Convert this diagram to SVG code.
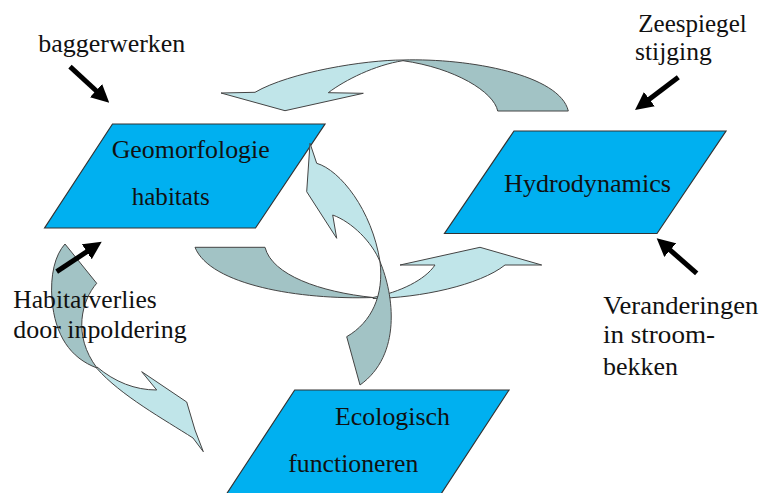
<svg xmlns="http://www.w3.org/2000/svg" width="760" height="493" viewBox="0 0 760 493">
<style>
.node{fill:#00b0f0;stroke:#333;stroke-width:1.2}
.lt{fill:#c0e5e9;stroke:#444;stroke-width:1}
.dk{fill:#a2c3c5;stroke:#444;stroke-width:1}
.t{font-family:"Liberation Serif","Times New Roman",serif;font-size:26px;fill:#111}
.ext{stroke:#000;stroke-width:5;fill:none}
</style>
<defs>
<marker id="ah" viewBox="0 0 18 18" refX="8" refY="9" markerWidth="18" markerHeight="18" markerUnits="userSpaceOnUse" orient="auto">
<path d="M0,0 L18,9 L0,18 Z" fill="#000"/>
</marker>
</defs>
<rect width="760" height="493" fill="#fff"/>
<g id="node-geomorfologie">
<polygon class="node" points="112.5,124 325,124 255.5,228 44.6,228"/>
<text class="t" x="111.7" y="158" textLength="158" lengthAdjust="spacingAndGlyphs">Geomorfologie</text>
<text class="t" x="131.7" y="205" textLength="78" lengthAdjust="spacingAndGlyphs">habitats</text>
</g>
<g id="node-hydrodynamics">
<polygon class="node" points="514,131 726,131 657,233.5 444.5,233.5"/>
<text class="t" x="504" y="191.7" textLength="167" lengthAdjust="spacingAndGlyphs">Hydrodynamics</text>
</g>
<g id="node-ecologisch">
<polygon class="node" points="294.7,390 509,390 441,494 226.5,494"/>
<text class="t" x="335" y="425" textLength="115" lengthAdjust="spacingAndGlyphs">Ecologisch</text>
<text class="t" x="288.3" y="471.7" textLength="130" lengthAdjust="spacingAndGlyphs">functioneren</text>
</g>
<g id="connectors">
<g id="arrow-top">
<path class="dk" d="M403,60 C470,58 560,75 568.3,111 L497.7,111 C494,92 455,68 403,60.7 Z"/>
<path class="lt" d="M403,60 C365,60 290,72 255,92.3 L221,93 L285,110.7 L363.3,93.3 L328.3,92.7 C345,80 375,65 403,60.7 Z"/>
</g>
<g id="arrow-middle">
<path class="dk" d="M195,247.3 L265,247.3 C272,275 320,292 373,297.5 C300,300 210,285 195,247.3 Z"/>
<path class="lt" d="M373,297.5 C400,292 425,280 435,265 L400,265 L480,247.3 L541.7,265 L505,265 C480,285 420,298 373,298.5 Z"/>
</g>
<g id="arrow-vertical">
<path class="dk" d="M380,261.7 C394,295 402,355 360,385 L346.7,336.7 C372,322 384,295 380,261.7 Z"/>
<path class="lt" d="M310,143.3 L316.7,163.3 C340,170 372,210 380,261.7 C372,242 352,222 332.7,215 L336.7,238.3 L306.7,191.7 Z"/>
</g>
<g id="arrow-left">
<path class="dk" d="M65,244 L96.7,283.3 C82,300 72,335 97,368 C70,358 55,335 52,300 C50,275 55,255 65,244 Z"/>
<path class="lt" d="M97,367 C115,382 135,390 156.7,390 L141.7,371.7 L186.7,402 L195,430 L203.3,451.7 L193,438 C165,420 120,395 97,368.5 Z"/>
</g>
<g id="external-arrows">
<line class="ext" x1="70" y1="66.7" x2="101.9" y2="96" marker-end="url(#ah)"/>
<line class="ext" x1="678.3" y1="77.3" x2="643" y2="104" marker-end="url(#ah)"/>
<line class="ext" x1="696.7" y1="273.3" x2="664.2" y2="244.9" marker-end="url(#ah)"/>
<line class="ext" x1="56.7" y1="271.7" x2="93.4" y2="247.3" marker-end="url(#ah)"/>
</g>
</g>
<g id="label-baggerwerken">
<text class="t" x="38.3" y="51.7" textLength="147" lengthAdjust="spacingAndGlyphs">baggerwerken</text>
</g>
<g id="label-zeespiegel">
<text class="t" x="638.3" y="31.7" textLength="108.4" lengthAdjust="spacingAndGlyphs">Zeespiegel</text>
<text class="t" x="635" y="60" textLength="76.7" lengthAdjust="spacingAndGlyphs">stijging</text>
</g>
<g id="label-veranderingen">
<text class="t" x="603.3" y="314.3" textLength="155" lengthAdjust="spacingAndGlyphs">Veranderingen</text>
<text class="t" x="603" y="343.3" textLength="112" lengthAdjust="spacingAndGlyphs">in stroom-</text>
<text class="t" x="603" y="375" textLength="75" lengthAdjust="spacingAndGlyphs">bekken</text>
</g>
<g id="label-habitatverlies">
<text class="t" x="13.3" y="308.3" textLength="143.4" lengthAdjust="spacingAndGlyphs">Habitatverlies</text>
<text class="t" x="13.3" y="338.3" textLength="173.4" lengthAdjust="spacingAndGlyphs">door inpoldering</text>
</g>
</svg>
